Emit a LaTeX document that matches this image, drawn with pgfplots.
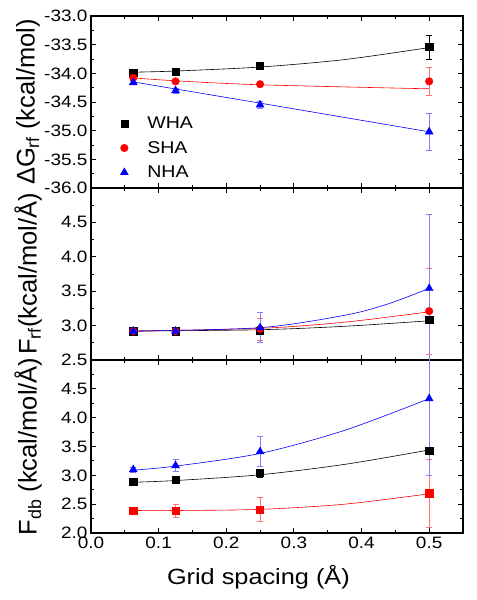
\documentclass[border=0pt]{standalone}
\usepackage{fontspec}
\setmainfont{Liberation Sans}[FakeStretch=1.15]
\newfontfamily\labfont{Liberation Sans}
\usepackage{pgfplots}
\pgfplotsset{compat=1.18}
\newcommand{\legtxt}[1]{\fontsize{17bp}{18bp}\selectfont\hspace{17bp}\rule{0pt}{17.5bp}#1}
\pgfplotsset{
  panel/.style={
    scale only axis, width=372bp,
    xmin=0, xmax=0.55,
    xtick={0,0.1,0.2,0.3,0.4,0.5},
    minor xtick={0.05,0.15,0.25,0.35,0.45,0.55},
    tick align=inside, major tick length=5bp, minor tick length=3bp,
    axis line style={line width=1.1bp},
    every tick/.style={black,line width=0.9bp},
    ticklabel style={font=\fontsize{16.5bp}{18bp}\selectfont},
    ylabel style={font=\labfont\fontsize{25.5bp}{27bp}\selectfont, at={(axis description cs:-0.169,0.5)}, anchor=center},
    xticklabels={},
  },
  fitk/.style={black, line width=0.6bp, smooth, no marks, forget plot},
  fitr/.style={red, line width=0.6bp, smooth, no marks, forget plot},
  fitb/.style={blue, line width=0.6bp, smooth, no marks, forget plot},
  ebk/.style={only marks, error bars/.cd, y dir=both, y explicit,
    error bar style={black, line width=0.6bp},
    error mark options={rotate=90, black, mark size=3bp, line width=0.6bp}},
  ebr/.style={only marks, error bars/.cd, y dir=both, y explicit,
    error bar style={red!55, line width=0.6bp},
    error mark options={rotate=90, red!55, mark size=3bp, line width=0.6bp}},
  ebb/.style={only marks, error bars/.cd, y dir=both, y explicit,
    error bar style={blue!50, line width=0.6bp},
    error mark options={rotate=90, blue!50, mark size=3bp, line width=0.6bp}},
  msq/.style={mark=square*, mark size=3.6bp},
  mci/.style={mark=*, mark size=3.8bp},
  mtr/.style={mark=triangle*, mark size=4.6bp},
}
\begin{document}
\begin{tikzpicture}
\useasboundingbox (0,0) rectangle (477bp,600bp);
% ---------------- top panel
\begin{axis}[panel, at={(91bp,412bp)}, anchor=south west, height=172bp,
  ymin=-36, ymax=-33,
  ytick={-36,-35.5,-35,-34.5,-34,-33.5,-33},
  yticklabels={-36.0,-35.5,-35.0,-34.5,-34.0,-33.5,-33.0},
  minor ytick={-35.75,-35.25,-34.75,-34.25,-33.75,-33.25},
  ylabel={ΔG\textsubscript{rf} (kcal/mol)},
  legend style={at={(axis description cs:0.073,0.459)}, anchor=north west,
    draw=none, fill=none, inner sep=2bp, row sep=0bp,
    nodes={inner ysep=0bp, text depth=7bp}},
  legend cell align=left]
\addplot[fitk] coordinates {(0.0625,-33.98) (0.125,-33.96) (0.25,-33.89) (0.375,-33.76) (0.5,-33.55)};
\addplot[fitr] coordinates {(0.0625,-34.08) (0.125,-34.13) (0.25,-34.20) (0.5,-34.27)};
\addplot[fitb] coordinates {(0.0625,-34.15) (0.25,-34.52) (0.5,-35.02)};
\addplot[black, msq, ebk] coordinates {(0.0625,-33.99) +- (0,0.02) (0.125,-33.97) +- (0,0.02) (0.25,-33.87) +- (0,0.03) (0.5,-33.54) +- (0,0.21)};
\addlegendentry{\legtxt{WHA}}
\addplot[red, mci, ebr] coordinates {(0.0625,-34.08) +- (0,0.03) (0.125,-34.14) +- (0,0.03) (0.25,-34.19) +- (0,0.03) (0.5,-34.14) +- (0,0.24)};
\addlegendentry{\legtxt{SHA}}
\addplot[blue, mtr, ebb] coordinates {(0.0625,-34.16) +- (0,0.04) (0.125,-34.30) +- (0,0.04) (0.25,-34.55) +- (0,0.06) (0.5,-35.02) +- (0,0.33)};
\addlegendentry{\legtxt{NHA}}
\end{axis}
% ---------------- middle panel
\begin{axis}[panel, at={(91bp,240bp)}, anchor=south west, height=172bp,
  ymin=2.5, ymax=5,
  ytick={2.5,3,3.5,4,4.5},
  yticklabels={2.5,3.0,3.5,4.0,4.5},
  minor ytick={2.75,3.25,3.75,4.25,4.75},
  ylabel={F\textsubscript{rf}(kcal/mol/Å)}]
\addplot[fitk] coordinates {(0.0625,2.92) (0.25,2.94) (0.375,2.99) (0.5,3.07)};
\addplot[fitr] coordinates {(0.0625,2.92) (0.25,2.96) (0.375,3.05) (0.5,3.20)};
\addplot[fitb] coordinates {(0.0625,2.92) (0.25,2.97) (0.375,3.15) (0.4375,3.31) (0.5,3.54)};
\addplot[black, msq, ebk] coordinates {(0.0625,2.92) +- (0,0.01) (0.125,2.92) +- (0,0.01) (0.25,2.93) +- (0,0.03) (0.5,3.08) +- (0,0.03)};
\addplot[red, mci, ebr] coordinates {(0.0625,2.92) +- (0,0.02) (0.125,2.92) +- (0,0.02) (0.25,2.95) +- (0,0.16) (0.5,3.21) +- (0,0.62)};
\addplot[blue, mtr, ebb] coordinates {(0.0625,2.92) +- (0,0.03) (0.125,2.92) +- (0,0.03) (0.25,2.97) +- (0,0.22) (0.5,3.54) +- (0,1.08)};
\end{axis}
% ---------------- bottom panel
\begin{axis}[panel, at={(91bp,67bp)}, anchor=south west, height=173bp,
  ymin=2, ymax=5,
  ytick={2,2.5,3,3.5,4,4.5},
  yticklabels={2.0,2.5,3.0,3.5,4.0,4.5},
  minor ytick={2.25,2.75,3.25,3.75,4.25,4.75},
  xticklabels={0.0,0.1,0.2,0.3,0.4,0.5},
  ylabel={F\textsubscript{db} (kcal/mol/Å)},
  xlabel={Grid spacing (Å)},
  xlabel style={font=\fontsize{22bp}{24bp}\selectfont, at={(axis description cs:0.45,-0.30)}, anchor=base}]
\addplot[fitk] coordinates {(0.0625,2.88) (0.125,2.91) (0.25,3.01) (0.375,3.19) (0.5,3.44)};
\addplot[fitr] coordinates {(0.0625,2.39) (0.125,2.39) (0.25,2.41) (0.375,2.50) (0.5,2.68)};
\addplot[fitb] coordinates {(0.0625,3.09) (0.125,3.16) (0.25,3.38) (0.375,3.78) (0.5,4.33)};
\addplot[black, msq, ebk] coordinates {(0.0625,2.89) +- (0,0.03) (0.125,2.92) +- (0,0.03) (0.25,3.04) +- (0,0.07) (0.5,3.43) +- (0,0.05)};
\addplot[red, msq, ebr] coordinates {(0.0625,2.39) +- (0,0.02) (0.125,2.39) +- (0,0.11) (0.25,2.41) +- (0,0.21) (0.5,2.69) +- (0,0.59)};
\addplot[blue, mtr, ebb] coordinates {(0.0625,3.10) +- (0,0.04) (0.125,3.17) +- (0,0.10) (0.25,3.41) +- (0,0.26) (0.5,4.33) +- (0,1.33)};
\end{axis}
\end{tikzpicture}
\end{document}
